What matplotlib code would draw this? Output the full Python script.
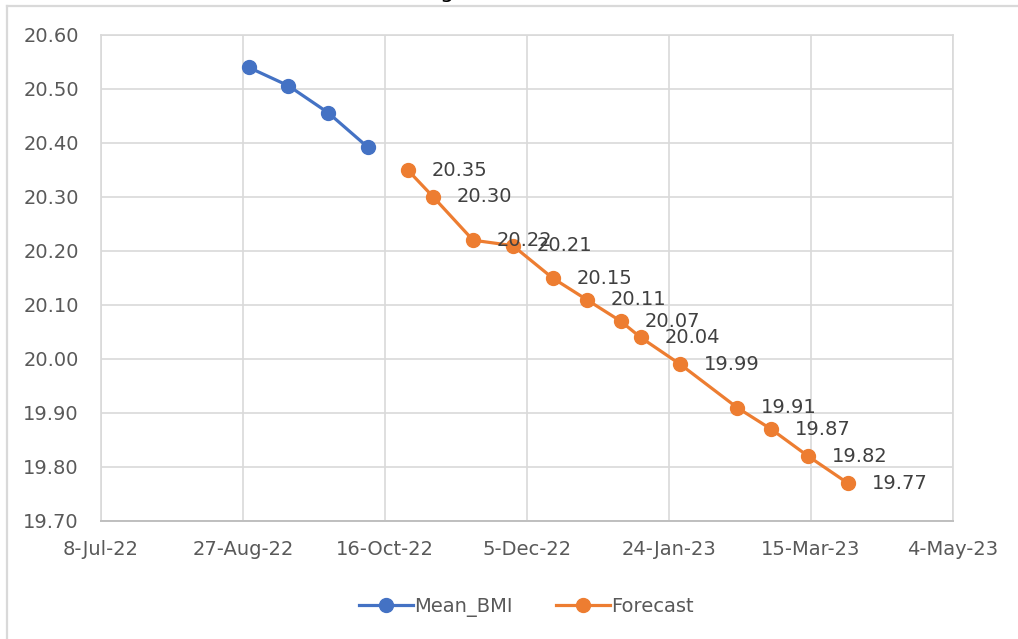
import pandas as pd
import matplotlib
matplotlib.use("Agg")
import matplotlib.pyplot as plt
import matplotlib.dates as mdates
from matplotlib.lines import Line2D

# observed mean BMI (biweekly)
mean_dates = ["2022-08-29", "2022-09-12", "2022-09-26", "2022-10-10"]
mean_bmi = [20.54, 20.506, 20.456, 20.392]

# forecast values
forecast_dates = ["2022-10-24", "2022-11-02", "2022-11-16", "2022-11-30",
                  "2022-12-14", "2022-12-26", "2023-01-07", "2023-01-14",
                  "2023-01-28", "2023-02-17", "2023-03-01", "2023-03-14",
                  "2023-03-28"]
forecast = [20.35, 20.30, 20.22, 20.21, 20.15, 20.11, 20.07, 20.04,
            19.99, 19.91, 19.87, 19.82, 19.77]

x_start, x_end = "2022-07-08", "2023-05-04"
y_min, y_max = 19.70, 20.60

BLUE = "#4472C4"
ORANGE = "#ED7D31"
GRID = "#D9D9D9"
TEXT = "#595959"
FS = 14

plt.rcParams["font.family"] = "DejaVu Sans"

fig = plt.figure(figsize=(10.18, 6.39), dpi=100)
ax = fig.add_axes([101 / 1018, 1 - 521 / 639, 852 / 1018, 486 / 639])

md = pd.to_datetime(mean_dates)
fd = pd.to_datetime(forecast_dates)

ax.plot(md, mean_bmi, color=BLUE, lw=2.3, marker="o", markersize=10,
        label="Mean_BMI", zorder=3)
ax.plot(fd, forecast, color=ORANGE, lw=2.3, marker="o", markersize=10,
        label="Forecast", zorder=3)

for d, v in zip(fd, forecast):
    ax.annotate(f"{v:.2f}", (d, v), xytext=(17, 0), textcoords="offset points",
                ha="left", va="center", fontsize=FS, color="#404040", zorder=4)

ax.set_xlim(pd.Timestamp(x_start), pd.Timestamp(x_end))
ax.set_ylim(y_min, y_max)
ax.set_xticks(pd.date_range(x_start, x_end, freq="50D"))
ax.xaxis.set_major_formatter(mdates.DateFormatter("%-d-%b-%y"))
ax.set_yticks([round(y_min + 0.1 * i, 2) for i in range(10)])
ax.yaxis.set_major_formatter(matplotlib.ticker.FormatStrFormatter("%.2f"))

ax.grid(True, color=GRID, lw=1.2)
ax.set_axisbelow(True)
ax.tick_params(length=0, labelsize=FS, labelcolor=TEXT)
ax.tick_params(axis="y", pad=16)
ax.tick_params(axis="x", pad=14)
for side in ["left", "top", "right"]:
    ax.spines[side].set_color(GRID)
    ax.spines[side].set_linewidth(1.2)
ax.spines["bottom"].set_color("#BFBFBF")
ax.spines["bottom"].set_linewidth(1.4)

fig.legend(loc="center", bbox_to_anchor=(0.517, 1 - 607 / 639), ncol=2,
           frameon=False, fontsize=FS, labelcolor=TEXT, handlelength=2.8,
           handletextpad=0.05, columnspacing=2.2)

# chart frame and clipped title
fig.add_artist(Line2D([6.5 / 1018, 1.0], [1 - 6 / 639, 1 - 6 / 639],
                      transform=fig.transFigure, color=GRID, lw=1.6))
fig.add_artist(Line2D([6.5 / 1018, 6.5 / 1018], [0.0, 1 - 6 / 639],
                      transform=fig.transFigure, color=GRID, lw=1.6))
fig.text(447 / 1018, 1 + 2 / 639, "g", ha="center", va="baseline", fontsize=16,
         color="black")

fig.savefig("out.png", dpi=100, facecolor="white")
